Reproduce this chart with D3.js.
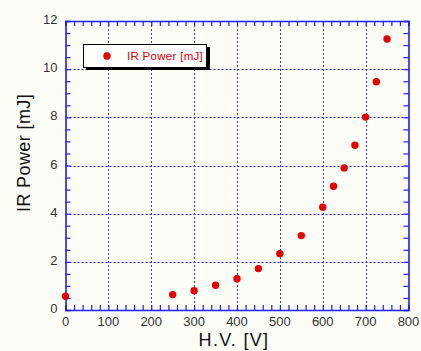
<!DOCTYPE html>
<html><head><meta charset="utf-8">
<script src="https://cdn.jsdelivr.net/npm/d3@7"></script>
<style>html,body{margin:0;padding:0;background:#fdfdf8;}svg{display:block;}</style>
</head><body><svg id="c" width="421" height="351"></svg>
<script>
const voltages = [0, 250, 300, 350, 400, 450, 500, 550, 600, 625, 650, 675, 700, 725, 750];
const irPower = [0.57, 0.64, 0.80, 1.03, 1.30, 1.72, 2.34, 3.09, 4.27, 5.14, 5.90, 6.84, 8.01, 9.48, 11.25];
const xTicks = [0, 100, 200, 300, 400, 500, 600, 700, 800];
const yTicks = [0, 2, 4, 6, 8, 10, 12];
const seriesName = "IR Power [mJ]";
const xTitle = "H.V. [V]";
const yTitle = "IR Power [mJ]";

const svg = d3.select("#c");
const L = 65.5, R = 408.5, T = 21, B = 310;
const x = d3.scaleLinear().domain([0, 800]).range([L, R]);
const y = d3.scaleLinear().domain([0, 12]).range([B, T]);
const blue = "#2020f0";
const font = "Liberation Sans, Arial, sans-serif";

svg.append("rect").attr("width", 421).attr("height", 351).attr("fill", "#fdfdf8");

// grid
const g = svg.append("g");
g.selectAll(".vg").data(xTicks.slice(1, -1)).join("line")
  .attr("x1", d => Math.round(x(d)) + 0.5).attr("x2", d => Math.round(x(d)) + 0.5)
  .attr("y1", T).attr("y2", B)
  .attr("stroke", "#3a3af4").attr("stroke-width", 1).attr("stroke-dasharray", "2,2");
g.selectAll(".hg").data(yTicks.slice(1, -1)).join("line")
  .attr("y1", d => Math.round(y(d)) + 0.5).attr("y2", d => Math.round(y(d)) + 0.5)
  .attr("x1", L).attr("x2", R)
  .attr("stroke", blue).attr("stroke-width", 1).attr("stroke-dasharray", "2,2");

// axes with minor ticks inside
const xMinor = d3.range(0, 801, 20);
const yMinor = d3.range(0, 12.01, 0.5);
const axB = d3.axisBottom(x).tickValues(xMinor).tickSize(-5).tickFormat("");
const axT = d3.axisTop(x).tickValues(xMinor).tickSize(-5).tickFormat("");
const axL = d3.axisLeft(y).tickValues(yMinor).tickSize(-5).tickFormat("");
const axR = d3.axisRight(y).tickValues(yMinor).tickSize(-5).tickFormat("");
[[axB, `translate(0,${B})`], [axT, `translate(0,${T})`], [axL, `translate(${L},0)`], [axR, `translate(${R},0)`]].forEach(([a, tr]) => {
  const s = svg.append("g").attr("transform", tr).call(a);
  s.select(".domain").attr("stroke", blue).attr("stroke-width", 1.6);
  s.selectAll(".tick line").attr("stroke", blue).attr("stroke-width", 1.2);
});

// tick labels
svg.append("g").selectAll("text").data(xTicks).join("text")
  .attr("x", d => x(d)).attr("y", B + 16).attr("text-anchor", "middle")
  .attr("font-family", font).attr("font-size", 13).attr("fill", "#333")
  .text(d => d);
svg.append("g").selectAll("text").data(yTicks).join("text")
  .attr("x", L - 8).attr("y", d => y(d) + 3).attr("text-anchor", "end")
  .attr("font-family", font).attr("font-size", 13).attr("fill", "#333")
  .text(d => d);

// axis titles
svg.append("text").attr("x", 234).attr("y", 346).attr("text-anchor", "middle")
  .attr("font-family", font).attr("font-size", 18).attr("letter-spacing", 1.3).attr("fill", "#111")
  .text(xTitle);
svg.append("text").attr("transform", "translate(30,153) rotate(-90)").attr("text-anchor", "middle")
  .attr("font-family", font).attr("font-size", 18).attr("letter-spacing", 0.4).attr("fill", "#111")
  .text(yTitle);

// points
svg.append("g").selectAll("circle").data(voltages.map((v, i) => [v, irPower[i]])).join("circle")
  .attr("cx", d => x(d[0])).attr("cy", d => y(d[1])).attr("r", 3.7).attr("fill", "#e00000");

// legend
const lg = svg.append("g");
lg.append("rect").attr("x", 86).attr("y", 47).attr("width", 124).attr("height", 23).attr("fill", "#000");
lg.append("rect").attr("x", 83.5).attr("y", 44.5).attr("width", 123).attr("height", 23)
  .attr("fill", "#fff").attr("stroke", "#000").attr("stroke-width", 1);
lg.append("circle").attr("cx", 107).attr("cy", 56).attr("r", 3.7).attr("fill", "#e00000");
lg.append("text").attr("x", 127).attr("y", 60).attr("font-family", font)
  .attr("font-size", 11.5).attr("letter-spacing", 0.3).attr("fill", "#e00000").text(seriesName);
</script></body></html>
